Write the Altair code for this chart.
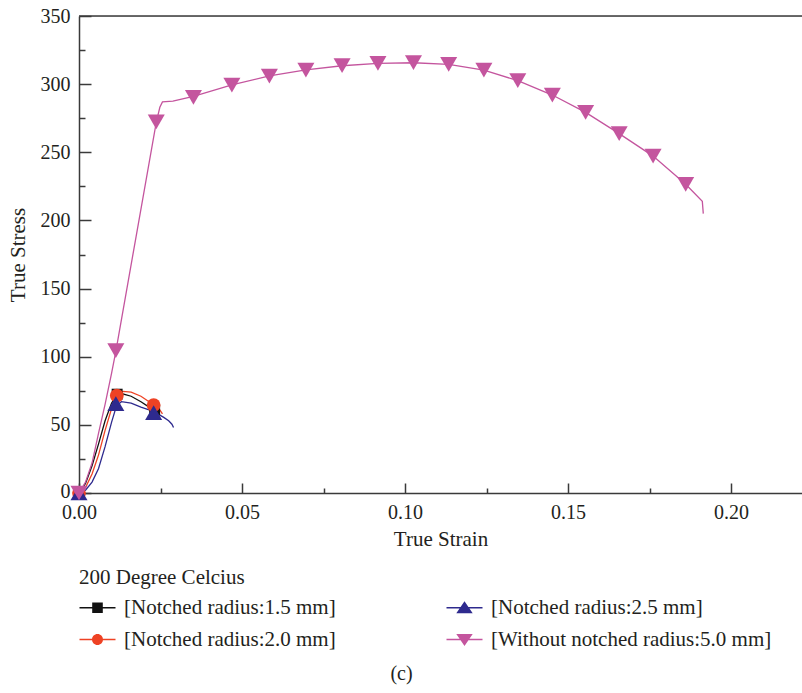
import altair as alt
import pandas as pd

# ---------------- data ----------------
S15 = "[Notched radius:1.5 mm]"
S20 = "[Notched radius:2.0 mm]"
S25 = "[Notched radius:2.5 mm]"
S50 = "[Without notched radius:5.0 mm]"

# legend order (column-major in two columns)
series_order = [S15, S20, S25, S50]
series_colors = ["#111111", "#EE4224", "#2E2A8E", "#C4559E"]

# curves
strain_15 = [0, 0.002, 0.004, 0.006, 0.008, 0.010, 0.0117, 0.013, 0.016, 0.019, 0.0215, 0.0232]
stress_15 = [0, 7, 20, 36, 53, 66, 72, 73, 71, 67, 63, 61]

strain_20 = [0, 0.002, 0.004, 0.006, 0.008, 0.010, 0.0117, 0.0135, 0.016, 0.019, 0.0215, 0.0232, 0.0248, 0.0256]
stress_20 = [0, 4, 14, 28, 46, 62, 72, 74.5, 74, 71, 67, 64, 61, 58]

strain_25 = [0, 0.002, 0.004, 0.006, 0.008, 0.010, 0.0115, 0.013, 0.016, 0.019, 0.0215, 0.0235, 0.026, 0.0275, 0.0285, 0.029]
stress_25 = [0, 2, 8, 18, 34, 52, 64, 67, 66, 63, 61, 59, 55.5, 53, 50.5, 48]

strain_50 = [0, 0.002, 0.004, 0.006, 0.008, 0.010, 0.0113, 0.0175, 0.0237, 0.0248, 0.0256, 0.0288,
             0.0351, 0.0469, 0.0584, 0.0696, 0.0807, 0.0917, 0.1026, 0.1134, 0.1242, 0.1346,
             0.1452, 0.1554, 0.1657, 0.1761, 0.1861, 0.1912, 0.1915]
stress_50 = [0, 8, 22, 44, 65, 88, 104, 188, 272, 283, 287, 287.5,
             291, 299.5, 306, 310.5, 313.5, 315.3, 315.7, 314.5, 310.3, 302.5,
             292, 279.3, 263.7, 247.2, 226.5, 214, 205]

# markers
mk_strain_15 = [0, 0.0117, 0.0232]
mk_stress_15 = [0, 72.5, 61]
mk_strain_20 = [0, 0.0116, 0.0229]
mk_stress_20 = [0, 71.5, 64.5]
mk_strain_25 = [0, 0.0113, 0.0229]
mk_stress_25 = [0, 65.5, 59]
mk_strain_50 = [0, 0.0113, 0.0237, 0.0351, 0.0469, 0.0584, 0.0696, 0.0807, 0.0917, 0.1026,
                0.1134, 0.1242, 0.1346, 0.1452, 0.1554, 0.1657, 0.1761, 0.1861]
mk_stress_50 = [0, 104.4, 272.3, 290.2, 299.3, 305.9, 310.3, 313.5, 315.2, 315.7,
                314.5, 310.3, 302.5, 291.9, 279.2, 263.7, 247.1, 226.5]

x_major = [0, 0.05, 0.10, 0.15, 0.20]
x_ticks = [0, 0.025, 0.05, 0.075, 0.10, 0.125, 0.15, 0.175, 0.20]
y_major = [0, 50, 100, 150, 200, 250, 300, 350]
y_ticks = [0, 25, 50, 75, 100, 125, 150, 175, 200, 225, 250, 275, 300, 325, 350]


def frame(name, xs, ys):
    return pd.DataFrame({"series": name, "strain": xs, "stress": ys, "idx": list(range(len(xs)))})


curves = {
    S15: frame(S15, strain_15, stress_15),
    S20: frame(S20, strain_20, stress_20),
    S25: frame(S25, strain_25, stress_25),
    S50: frame(S50, strain_50, stress_50),
}
markers = {
    S15: frame(S15, mk_strain_15, mk_stress_15),
    S20: frame(S20, mk_strain_20, mk_stress_20),
    S25: frame(S25, mk_strain_25, mk_stress_25),
    S50: frame(S50, mk_strain_50, mk_stress_50),
}
markers_df = pd.concat([markers[s] for s in series_order], ignore_index=True)

# ---------------- style ----------------
W, H = 723, 477
XMAX = 723 / 3260
FONT = "Liberation Serif"
TXT = "#231F20"
AX = "#3A3A3A"

xsc = alt.Scale(domain=[0, XMAX], nice=False, zero=False)
ysc = alt.Scale(domain=[0, 350], nice=False)
csc = alt.Scale(domain=series_order, range=series_colors)

# legend symbols: a line segment with the marker on it (unit = 10 px)
LINE = "M-1,-0.07H2.6V0.07H-1Z"
legend_paths = {
    S15: LINE + "M0.27,-0.53H1.33V0.53H0.27Z",
    S20: LINE + "M0.25,0A0.55,0.55 0 1,1 1.35,0A0.55,0.55 0 1,1 0.25,0Z",
    S25: LINE + "M0.8,-0.65L1.62,0.55L-0.02,0.55Z",
    S50: LINE + "M-0.02,-0.55L1.62,-0.55L0.8,0.65Z",
}
ssc = alt.Scale(domain=series_order, range=[legend_paths[s] for s in series_order])

marker_style = {
    S15: dict(shape="square", size=120),
    S20: dict(shape="circle", size=190),
    S25: dict(shape="triangle-up", size=290),
    S50: dict(shape="triangle-down", size=290),
}
color_of = dict(zip(series_order, series_colors))

axis_common = dict(labelFont=FONT, labelFontSize=20, labelColor=TXT, titleFont=FONT,
                   titleFontSize=21, titleFontWeight="normal", titleColor=TXT,
                   domainColor=AX, domainWidth=1.5, grid=False, ticks=False, tickSize=0,
                   labelFlush=False)

layers = []
draw_order = [S15, S20, S25, S50]
for s in draw_order:
    if s == S15:
        xa = alt.Axis(orient="bottom", values=x_major, format=".2f", labelPadding=9,
                      title="True Strain", titlePadding=6, **axis_common)
        ya = alt.Axis(orient="left", values=y_major, labelPadding=9, title="True Stress",
                      titlePadding=12,
                      labelOffset={"condition": {"test": "datum.value === 0", "value": -2},
                                   "value": 0},
                      **axis_common)
    else:
        xa = None
        ya = None
    ln = alt.Chart(curves[s]).mark_line(strokeWidth=1.3, color=color_of[s]).encode(
        x=alt.X("strain:Q", scale=xsc, axis=xa),
        y=alt.Y("stress:Q", scale=ysc, axis=ya),
        order=alt.Order("idx:Q"),
    )
    layers.append(ln)

for s in draw_order:
    if s == S50:
        xa = alt.Axis(orient="top", offset=-H, values=x_ticks, labels=False, domain=False,
                      ticks=True, grid=False, title=None, tickColor=AX, tickWidth=1.5,
                      tickSize={"condition": {"test": "abs(datum.value * 20 - round(datum.value * 20)) < 0.001",
                                              "value": 10}, "value": 5})
        ya = alt.Axis(orient="right", offset=-W, values=y_ticks, labels=False, domain=False,
                      ticks=True, grid=False, title=None, tickColor=AX, tickWidth=1.5,
                      tickSize={"condition": {"test": "datum.value % 50 === 0", "value": 12},
                                "value": 6})
    else:
        xa = None
        ya = None
    pts = alt.Chart(markers[s]).mark_point(filled=True, opacity=1, color=color_of[s],
                                           **marker_style[s]).encode(
        x=alt.X("strain:Q", scale=xsc, axis=xa),
        y=alt.Y("stress:Q", scale=ysc, axis=ya),
    )
    layers.append(pts)

top_rule = alt.Chart(pd.DataFrame({"v": [350]})).mark_rule(color=AX, strokeWidth=1.5).encode(
    y=alt.Y("v:Q", scale=ysc, axis=None),
    x=alt.value(0),
    x2=alt.value(W),
)
layers.append(top_rule)

leg = dict(title="200 Degree Celcius", orient="none", legendX=0, legendY=551, columns=2,
           columnPadding=110, rowPadding=10, symbolSize=400, symbolStrokeWidth=0,
           symbolOpacity=1, labelFont=FONT, labelFontSize=21, labelColor=TXT, labelOffset=24,
           labelLimit=0, titleFont=FONT, titleFontSize=21, titleFontWeight="normal",
           titleColor=TXT, titlePadding=9)

carrier = alt.Chart(markers_df).mark_point(filled=True, opacity=0).encode(
    x=alt.X("strain:Q", scale=xsc, axis=None),
    y=alt.Y("stress:Q", scale=ysc, axis=None),
    color=alt.Color("series:N", scale=csc, legend=alt.Legend(**leg)),
    shape=alt.Shape("series:N", scale=ssc, legend=alt.Legend(**leg)),
)
layers.append(carrier)

chart = alt.layer(*layers).resolve_axis(x="independent", y="independent").properties(
    width=W,
    height=H,
    autosize=alt.AutoSizeParams(type="none"),
    padding={"left": 79, "top": 16, "right": 0, "bottom": 200},
    title=alt.TitleParams(text="(c)", orient="bottom", anchor="middle", dx=-39, offset=14,
                          font=FONT, fontSize=20, fontWeight="normal", color=TXT),
).configure_view(stroke=None).configure_legend(
    labelFont=FONT, titleFont=FONT, labelFontSize=21, titleFontSize=21,
    labelColor=TXT, titleColor=TXT,
).configure(background="white")

chart.save("out.html", embed_options={"renderer": "svg", "actions": False})
